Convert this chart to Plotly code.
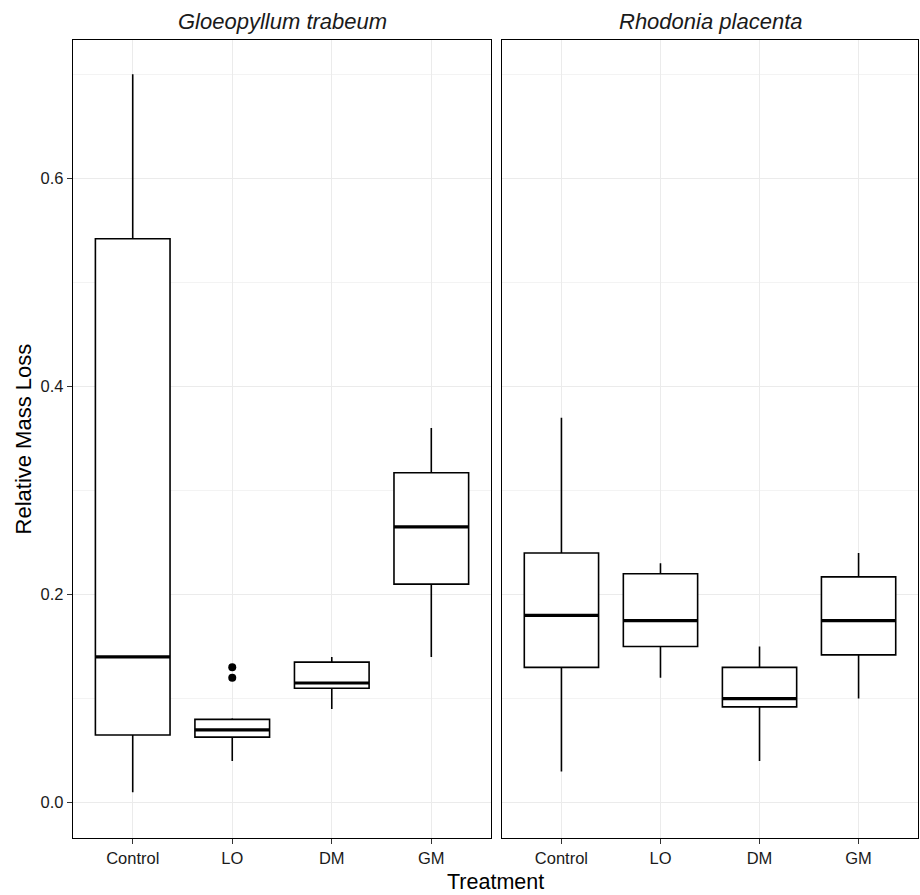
import plotly.graph_objects as go

# ---------------- data ----------------
treatments = ["Control", "LO", "DM", "GM"]
fungi = ["Gloeopyllum trabeum", "Rhodonia placenta"]

gt_lower = [0.01, 0.04, 0.09, 0.14]
gt_q1 = [0.065, 0.063, 0.11, 0.21]
gt_median = [0.14, 0.07, 0.115, 0.265]
gt_q3 = [0.542, 0.08, 0.135, 0.317]
gt_upper = [0.70, 0.081, 0.14, 0.36]
gt_outlier_x = ["LO", "LO"]
gt_outlier_y = [0.12, 0.13]

rp_lower = [0.03, 0.12, 0.04, 0.10]
rp_q1 = [0.13, 0.15, 0.092, 0.142]
rp_median = [0.18, 0.175, 0.10, 0.175]
rp_q3 = [0.24, 0.22, 0.13, 0.217]
rp_upper = [0.37, 0.23, 0.15, 0.24]

y_tick_vals = [0.0, 0.2, 0.4, 0.6]
y_tick_text = ["0.0", "0.2", "0.4", "0.6"]

# ---------------- figure ----------------
FONT = "Liberation Sans, Arial, Helvetica, sans-serif"
BOX_W = 0.75
pos = [i + 1 for i in range(len(treatments))]
posmap = dict(zip(treatments, pos))

fig = go.Figure()

panels = [
    ("x", "y", gt_lower, gt_q1, gt_median, gt_q3, gt_upper),
    ("x2", "y2", rp_lower, rp_q1, rp_median, rp_q3, rp_upper),
]
for xa, ya, lo, q1, med, q3, up in panels:
    fig.add_trace(go.Box(
        x=pos, q1=q1, median=med, q3=q3, lowerfence=lo, upperfence=up,
        width=BOX_W, fillcolor="white", whiskerwidth=0,
        line=dict(color="black", width=1.6), boxpoints=False,
        xaxis=xa, yaxis=ya, showlegend=False, hoverinfo="skip",
    ))
    mx, my = [], []
    for p, m in zip(pos, med):
        mx += [p - BOX_W / 2, p + BOX_W / 2, None]
        my += [m, m, None]
    fig.add_trace(go.Scatter(
        x=mx, y=my, mode="lines", line=dict(color="black", width=3.2),
        xaxis=xa, yaxis=ya, showlegend=False, hoverinfo="skip",
    ))

fig.add_trace(go.Scatter(
    x=[posmap[c] for c in gt_outlier_x], y=gt_outlier_y, mode="markers",
    marker=dict(color="black", size=8), xaxis="x", yaxis="y",
    showlegend=False, hoverinfo="skip",
))

grid = "#EBEBEB"
common_x = dict(
    range=[0.4, 4.6], tickmode="array", tickvals=pos, ticktext=treatments,
    showline=True, mirror=True, linecolor="black", linewidth=1.3,
    ticks="outside", ticklen=5, tickwidth=1.1, tickcolor="#333333",
    showgrid=True, gridcolor=grid, gridwidth=1.1, zeroline=False,
    tickfont=dict(family=FONT, size=16.5, color="#1a1a1a"),
)
common_y = dict(
    range=[-0.034, 0.733], tickmode="array", tickvals=y_tick_vals,
    showline=True, mirror=True, linecolor="black", linewidth=1.3,
    showgrid=True, gridcolor=grid, gridwidth=1.1, zeroline=False,
    minor=dict(tickmode="array", tickvals=[0.1, 0.3, 0.5, 0.7],
               showgrid=True, gridcolor=grid, gridwidth=0.6, ticks=""),
)

fig.update_layout(
    width=920, height=895,
    margin=dict(l=73, r=2, t=40, b=57),
    paper_bgcolor="white", plot_bgcolor="white",
    font=dict(family=FONT, color="black"),
    xaxis=dict(domain=[0, 0.4947], anchor="y", **common_x),
    xaxis2=dict(domain=[0.5077, 1], anchor="y2", **common_x),
    yaxis=dict(domain=[0, 1], anchor="x", ticktext=y_tick_text,
               ticks="outside", ticklen=5, tickwidth=1.1, tickcolor="#333333",
               tickfont=dict(family=FONT, size=16.5, color="#1a1a1a"),
               **common_y),
    yaxis2=dict(domain=[0, 1], anchor="x2", matches="y",
                showticklabels=False, ticks="", **common_y),
)

annotations = [
    dict(text="<i>%s</i>" % fungi[0], xref="x domain", yref="paper",
         x=0.5, y=1.0226, xanchor="center", yanchor="middle", showarrow=False,
         font=dict(family=FONT, size=22, color="#1a1a1a")),
    dict(text="<i>%s</i>" % fungi[1], xref="x2 domain", yref="paper",
         x=0.5, y=1.0226, xanchor="center", yanchor="middle", showarrow=False,
         font=dict(family=FONT, size=22, color="#1a1a1a")),
    dict(text="Treatment", xref="paper", yref="paper",
         x=0.5, y=-0.055, xanchor="center", yanchor="middle", showarrow=False,
         font=dict(family=FONT, size=21.5, color="black")),
    dict(text="Relative Mass Loss", xref="paper", yref="paper",
         x=-0.0586, y=0.5, xanchor="center", yanchor="middle", showarrow=False,
         textangle=-90, font=dict(family=FONT, size=22, color="black")),
]
fig.update_layout(annotations=annotations)

fig.write_html(
    "out.html",
    config={"displayModeBar": False, "staticPlot": True},
    post_script="document.body.style.margin='0';document.body.style.overflow='hidden';",
)
